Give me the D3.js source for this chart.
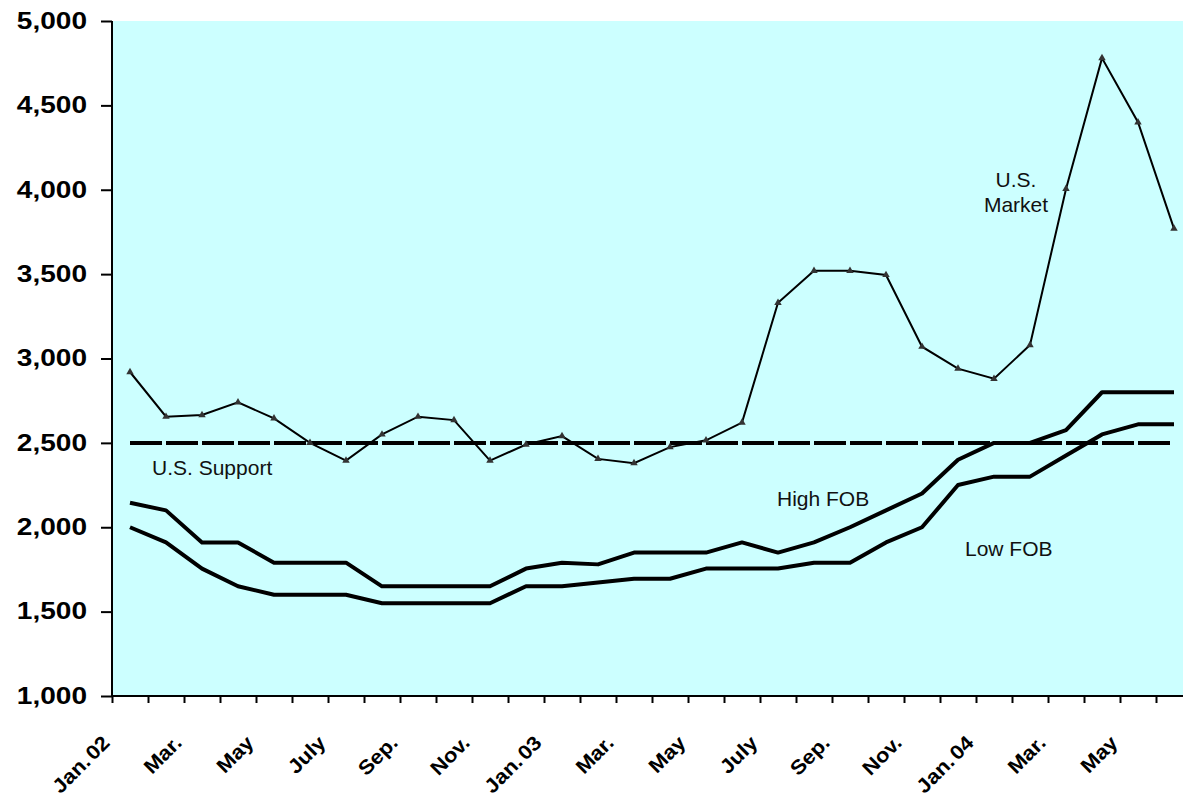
<!DOCTYPE html>
<html>
<head>
<meta charset="utf-8">
<script src="https://cdn.jsdelivr.net/npm/d3@7"></script>
<style>
  body { margin: 0; background: #fff; }
  svg { display: block; font-family: "Liberation Sans", Arial, sans-serif; }
</style>
</head>
<body>
<div id="chart"></div>
<script>
// months Jan 2002 .. Jun 2004
const months = ["2002-01","2002-02","2002-03","2002-04","2002-05","2002-06","2002-07","2002-08","2002-09","2002-10","2002-11","2002-12",
                "2003-01","2003-02","2003-03","2003-04","2003-05","2003-06","2003-07","2003-08","2003-09","2003-10","2003-11","2003-12",
                "2004-01","2004-02","2004-03","2004-04","2004-05","2004-06"];
const monthLabels = ["Jan. 02","Feb.","Mar.","Apr.","May","June","July","Aug.","Sep.","Oct.","Nov.","Dec.",
                     "Jan. 03","Feb.","Mar.","Apr.","May","June","July","Aug.","Sep.","Oct.","Nov.","Dec.",
                     "Jan. 04","Feb.","Mar.","Apr.","May","June"];

const usMarket = [2920, 2655, 2665, 2740, 2645, 2500, 2395, 2550, 2655, 2635, 2395, 2490, 2540, 2405, 2380,
                  2475, 2515, 2620, 3330, 3520, 3520, 3495, 3070, 2940, 2880, 3080, 4005, 4780, 4400, 3770];
const highFOB  = [2145, 2100, 1910, 1910, 1790, 1790, 1790, 1650, 1650, 1650, 1650, 1755, 1790, 1780, 1850,
                  1850, 1850, 1910, 1850, 1910, 2000, 2100, 2200, 2400, 2500, 2500, 2575, 2800, 2800, 2800];
const lowFOB   = [2000, 1910, 1755, 1650, 1600, 1600, 1600, 1550, 1550, 1550, 1550, 1650, 1650, 1672, 1695,
                  1695, 1755, 1755, 1755, 1790, 1790, 1910, 2000, 2250, 2300, 2300, 2425, 2550, 2610, 2610];
const usSupport = months.map(() => 2500);

const yTicks = [1000, 1500, 2000, 2500, 3000, 3500, 4000, 4500, 5000];

const margin = {top: 21, left: 112},
      width = 1080,
      height = 675;

const svg = d3.select("#chart")
  .append("svg")
  .attr("width", 1183)
  .attr("height", 797);

const g = svg.append("g")
  .attr("transform", `translate(${margin.left},${margin.top})`);

const x = d3.scaleBand().domain(months).range([0, width]);
const xc = i => x(months[i]) + x.bandwidth() / 2;
const xEdge = d3.scaleLinear().domain([0, months.length]).range([0, width]);
const y = d3.scaleLinear().domain([1000, 5000]).range([height, 0]);

// plot background
g.append("rect")
  .attr("width", width)
  .attr("height", height)
  .attr("fill", "#ccffff");

// y axis
const yAxis = g.append("g")
  .call(d3.axisLeft(y).tickValues(yTicks).tickSize(11).tickFormat(d3.format(",")));
yAxis.select(".domain").attr("stroke-width", 2).attr("d", `M0,0V${height}`);
yAxis.selectAll(".tick line").attr("stroke-width", 2);
yAxis.selectAll(".tick text")
  .attr("x", -25 / 1.22)
  .attr("transform", "scale(1.22,1)")
  .style("font-size", "23px")
  .style("font-weight", "bold")
  .attr("fill", "#000");

// x axis, ticks on the category edges
const xAxis = g.append("g")
  .attr("transform", `translate(0,${height})`)
  .call(d3.axisBottom(xEdge).tickValues(d3.range(months.length + 1)).tickSize(7).tickFormat(""));
xAxis.select(".domain").attr("stroke-width", 2).attr("d", `M0,0H${width}`);
xAxis.selectAll(".tick line").attr("stroke-width", 2);

g.append("g")
  .selectAll("text")
  .data(months.filter((d, i) => i % 2 === 0))
  .join("text")
  .attr("transform", d => `translate(${x(d) + x.bandwidth() / 2 - 19},${height + 48}) rotate(-45) scale(1.1,1)`)
  .attr("text-anchor", "end")
  .style("font-size", "20px")
  .style("font-weight", "bold")
  .style("word-spacing", "-3px")
  .text(d => monthLabels[months.indexOf(d)]);

const line = d3.line()
  .x((d, i) => xc(i))
  .y(d => y(d));

// U.S. support (dashed)
g.append("path")
  .datum(usSupport)
  .attr("d", line)
  .attr("fill", "none")
  .attr("stroke", "#000")
  .attr("stroke-width", 4)
  .attr("stroke-dasharray", "32,4");

// FOB lines
[highFOB, lowFOB].forEach(series => {
  g.append("path")
    .datum(series)
    .attr("d", line)
    .attr("fill", "none")
    .attr("stroke", "#000")
    .attr("stroke-width", 4)
    .attr("stroke-linejoin", "round");
});

// U.S. market with triangle markers
g.append("path")
  .datum(usMarket)
  .attr("d", line)
  .attr("fill", "none")
  .attr("stroke", "#000")
  .attr("stroke-width", 2);

g.selectAll(".marker")
  .data(usMarket)
  .join("path")
  .attr("class", "marker")
  .attr("d", d3.symbol().type(d3.symbolTriangle).size(24))
  .attr("transform", (d, i) => `translate(${xc(i)},${y(d)})`)
  .attr("fill", "#333");

// series labels
const note = (txt, px, py, anchor) => g.append("text")
  .attr("x", px)
  .attr("y", py)
  .attr("text-anchor", anchor)
  .style("font-size", "21px")
  .attr("fill", "#111")
  .text(txt);

note("U.S. Support", xc(0) + 22, y(2310), "start");
note("High FOB", xc(18) - 1, y(2126), "start");
note("Low FOB", xc(23) + 7, y(1830), "start");
note("U.S.", xc(24) + 22, y(4016), "middle");
note("Market", xc(24) + 22, y(3868), "middle");
</script>
</body>
</html>
